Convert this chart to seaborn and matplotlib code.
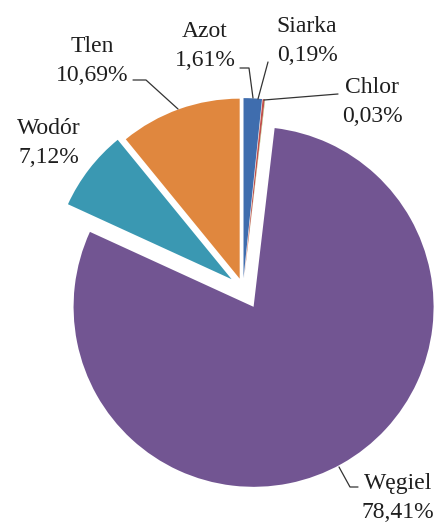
import matplotlib
matplotlib.use("Agg")
import matplotlib.pyplot as plt
import seaborn as sns

# Data
labels = ["Azot", "Siarka", "Chlor", "Węgiel", "Wodór", "Tlen"]
values = [1.61, 0.19, 0.03, 78.41, 7.12, 10.69]
colors = ["#3F6DAE", "#C0504D", "#9BBB59", "#725592", "#3A98B2", "#E0873E"]
explode = [0.055, 0.055, 0.055, 0.12, 0.08, 0.055]

sns.set_style("white")
plt.rcParams["font.family"] = ["Liberation Serif", "DejaVu Serif"]

W, H = 440, 526
CX, CY, R = 243, 288, 180

fig = plt.figure(figsize=(W / 100, H / 100), dpi=100)
ax = fig.add_axes([0, 0, 1, 1])
ax.pie(values, colors=colors, explode=explode, startangle=90, counterclock=False,
       radius=1.0, center=(0, 0), wedgeprops=dict(linewidth=0))
ax.set_xlim(-CX / R, (W - CX) / R)
ax.set_ylim(-(H - CY) / R, CY / R)
ax.set_aspect("equal")
ax.axis("off")


def px(x, y):
    return (x - CX) / R, (CY - y) / R


def fmt(v):
    return f"{v:.2f}".replace(".", ",") + "%"

# label positions (pixel coords, text centres) and leader lines
label_pos = {
    "Azot": (205, 46),
    "Siarka": (307, 41),
    "Chlor": (372, 102),
    "Węgiel": (398, 498),
    "Wodór": (49, 143),
    "Tlen": (92, 61),
}
leaders = {
    "Azot": [(240, 68), (249, 68), (253, 98)],
    "Siarka": [(268, 62), (258, 99)],
    "Chlor": [(338, 94), (264, 100)],
    "Węgiel": [(339, 467), (350, 487), (358, 487)],
    "Tlen": [(133, 80), (146, 80), (178, 109)],
}

for name, val in zip(labels, values):
    x, y = px(*label_pos[name])
    ax.text(x, y, f"{name}\n{fmt(val)}", ha="center", va="center",
            fontsize=17, color="#1e1e1e", linespacing=1.55)
    if name in leaders:
        pts = [px(a, b) for a, b in leaders[name]]
        ax.plot([p[0] for p in pts], [p[1] for p in pts], color="#333333", lw=0.9)

fig.savefig("out.png", dpi=100, facecolor="white")
